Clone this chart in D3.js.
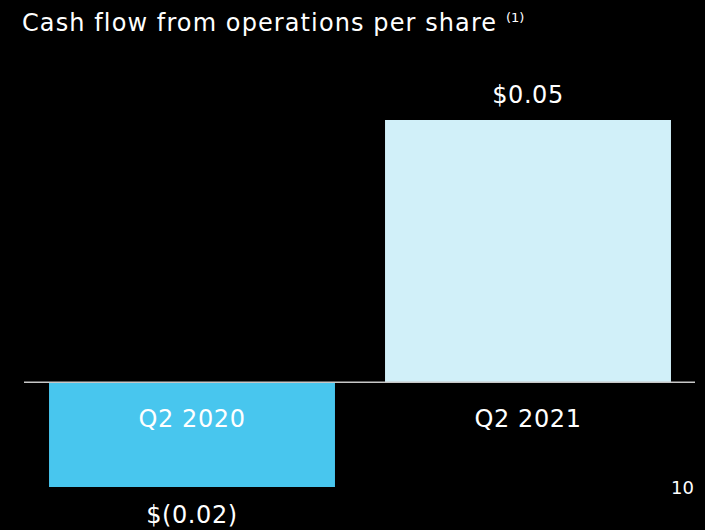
<!DOCTYPE html>
<html>
<head>
<meta charset="utf-8">
<script src="https://cdn.jsdelivr.net/npm/d3@7"></script>
<style>
  body { margin: 0; background: #000; }
  text { font-family: "DejaVu Sans", sans-serif; fill: #fff; }
</style>
</head>
<body>
<script>
// data
const categories = ["Q2 2020", "Q2 2021"];
const values = [-0.02, 0.05];
const valueLabels = ["$(0.02)", "$0.05"];
const barColors = ["#48c6ee", "#d1f0f9"];

const width = 705;
const height = 530;

const svg = d3.select("body").append("svg")
    .attr("width", width)
    .attr("height", height)
    .style("background", "#000");

const x = d3.scaleBand()
    .domain(categories)
    .range([24, 696])
    .paddingInner(0.149)
    .paddingOuter(0.0745);

const y = d3.scaleLinear()
    .domain([-0.02, 0.05])
    .range([487, 120]);

// title
const title = svg.append("text")
    .attr("x", 22)
    .attr("y", 31)
    .style("font-size", "24px")
    .style("letter-spacing", "1.1px");
title.append("tspan").text("Cash flow from operations per share ");
title.append("tspan")
    .attr("dy", -9)
    .style("font-size", "13px")
    .style("letter-spacing", "0px")
    .text("(1)");

// bars
svg.selectAll(".bar")
    .data(values)
    .enter()
    .append("rect")
    .attr("class", "bar")
    .attr("x", (d, i) => x(categories[i]))
    .attr("y", d => y(Math.max(0, d)))
    .attr("width", x.bandwidth())
    .attr("height", d => Math.abs(y(d) - y(0)))
    .attr("fill", (d, i) => barColors[i]);

// zero line
svg.append("line")
    .attr("x1", 24)
    .attr("x2", 695)
    .attr("y1", y(0))
    .attr("y2", y(0))
    .attr("stroke", "#c8c8c8")
    .attr("stroke-width", 1.5);

// category labels under the zero line
svg.selectAll(".cat")
    .data(categories)
    .enter()
    .append("text")
    .attr("class", "cat")
    .attr("x", d => x(d) + x.bandwidth() / 2)
    .attr("y", y(0) + 45)
    .attr("text-anchor", "middle")
    .style("font-size", "24px")
    .style("letter-spacing", "0.6px")
    .text(d => d);

// value labels
svg.selectAll(".val")
    .data(values)
    .enter()
    .append("text")
    .attr("class", "val")
    .attr("x", (d, i) => x(categories[i]) + x.bandwidth() / 2)
    .attr("y", d => d >= 0 ? y(d) - 17 : y(d) + 36)
    .attr("text-anchor", "middle")
    .style("font-size", "24px")
    .style("letter-spacing", "0.6px")
    .text((d, i) => valueLabels[i]);

// page number
svg.append("text")
    .attr("x", 694)
    .attr("y", 494)
    .attr("text-anchor", "end")
    .style("font-size", "18px")
    .text("10");
</script>
</body>
</html>
